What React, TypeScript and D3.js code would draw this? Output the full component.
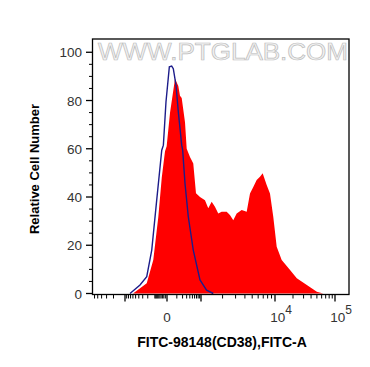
import React from 'react';
import * as d3 from 'd3';

// control (isotype) histogram: intensity, relative count
const controlIntensity = [-726, -367, -218, -139, -80, -35, -23, -6, 18, 39, 56, 89, 122, 182, 202, 256, 349, 538, 924, 1200, 1490];
const controlCount = [0, 3.5, 7, 18, 38.7, 59.4, 61.5, 79.4, 94, 94.3, 93.2, 86.3, 75.3, 61.5, 59.4, 45.6, 31.8, 18, 5.6, 1.4, 0];

// stained sample histogram
const sampleIntensity = [-596, -218, -119, -64, -35, -12, -2, 24, 76, 122, 150, 182, 256, 301, 406, 538, 672, 924, 1139, 1268, 1415, 1571, 1745, 1942, 2274, 2518, 2793, 3103, 3622, 4225, 4675, 5170, 5730, 6340, 6880, 7770, 8590, 9490, 10680, 12950, 17850, 23130, 34000, 49900, 63660];
const sampleCount = [0, 4.2, 13.9, 31.8, 48, 59, 61, 75, 89, 86, 82, 81, 71, 60, 56.6, 53.9, 41.6, 40, 38.7, 35.3, 38, 36, 33.2, 33.9, 33.9, 32.5, 30.4, 33.2, 34.6, 33.9, 41.5, 44.2, 47, 48.4, 49.8, 45, 41.5, 31.8, 19.4, 13.9, 9.7, 6.3, 3.5, 0.7, 0];

const yTicks = [0, 20, 40, 60, 80, 100];
const xMajor = [-1000, 0, 1000, 10000, 100000];
const xLabels = [
  { v: 0, base: '0', exp: '' },
  { v: 10000, base: '10', exp: '4' },
  { v: 100000, base: '10', exp: '5' },
];

const font = 'Arial, "Liberation Sans", sans-serif';

// biexponential-like transform for the display axis
const T = (v: number) => Math.sign(v) * Math.log10(1 + Math.abs(v) / 100);

const left = 92.5, right = 349, top = 39, bottom = 294.5;

const x = d3.scaleLinear()
  .domain([T(-6740), T(-1000), T(0), T(1000), T(10000), T(100000), T(171300)])
  .range([left, 125, 167, 201, 275, 335, right]);
const px = (v: number) => x(T(v));

const y = d3.scaleLinear().domain([0, 105.5]).range([293.5, top]);

const minorX: number[] = [];
for (let k = 2; k <= 6; k++) minorX.push(-1000 * k);
for (let k = 1; k <= 9; k++) { minorX.push(-100 * k); minorX.push(-10 * k); }
for (let k = 1; k <= 9; k++) minorX.push(100 * k);
for (let k = 2; k <= 9; k++) { minorX.push(1000 * k); minorX.push(10000 * k); }

const minorY = d3.range(0, 105, 5).filter(v => v % 20 !== 0);

export default function App() {
  const area = d3.area<number>()
    .x((_, i) => px(sampleIntensity[i]))
    .y0(y(0))
    .y1(d => y(d));
  const line = d3.line<number>()
    .x((_, i) => px(controlIntensity[i]))
    .y(d => y(d));

  return (
    <svg width={370} height={367} style={{ position: 'absolute', left: 0, top: 0 }}>
      <rect width={370} height={367} fill="#fff" />
      <defs>
        <clipPath id="plot"><rect x={left} y={top} width={right - left} height={bottom - top} /></clipPath>
      </defs>
      <text x={98} y={60} fontFamily={font} fontSize={24} textLength={250} lengthAdjust="spacingAndGlyphs"
        fill="#f2f2f2" stroke="#bdbdbd" strokeWidth={0.7}>WWW.PTGLAB.COM</text>
      <g clipPath="url(#plot)">
        <path d={area(sampleCount) || ''} fill="#ff0000" />
        <path d={line(controlCount) || ''} fill="none" stroke="#1c1c8a" strokeWidth={1.4} />
      </g>
      <rect x={left} y={top} width={right - left} height={bottom - top} fill="none" stroke="#000" strokeWidth={1.3} />
      {/* y axis */}
      {yTicks.map(t => (
        <g key={t}>
          <line x1={86} x2={left} y1={y(t)} y2={y(t)} stroke="#000" strokeWidth={1.3} />
          <text x={82} y={y(t) + 5} textAnchor="end" fontFamily={font} fontSize={13.5} fill="#333">{t}</text>
        </g>
      ))}
      {minorY.map(t => (
        <line key={t} x1={89} x2={left} y1={y(t)} y2={y(t)} stroke="#000" strokeWidth={1} />
      ))}
      {/* x axis */}
      {minorX.map((t, i) => (
        <line key={i} x1={px(t)} x2={px(t)} y1={bottom} y2={bottom + 4} stroke="#000" strokeWidth={1} />
      ))}
      {xMajor.map(t => (
        <line key={t} x1={px(t)} x2={px(t)} y1={bottom} y2={bottom + 7} stroke="#000" strokeWidth={1.3} />
      ))}
      {xLabels.map(l => (
        <text key={l.v} x={px(l.v) + (l.exp ? 6 : 0)} y={322} textAnchor="middle" fontFamily={font} fontSize={13.5} fill="#333">
          {l.base}
          {l.exp && <tspan dy={-8} fontSize={12}>{l.exp}</tspan>}
        </text>
      ))}
      <text x={222} y={347} textAnchor="middle" fontFamily={font} fontSize={14} fontWeight="bold">FITC-98148(CD38),FITC-A</text>
      <text transform="translate(39,169) rotate(-90)" textAnchor="middle" fontFamily={font} fontSize={13} fontWeight="bold">Relative Cell Number</text>
    </svg>
  );
}
